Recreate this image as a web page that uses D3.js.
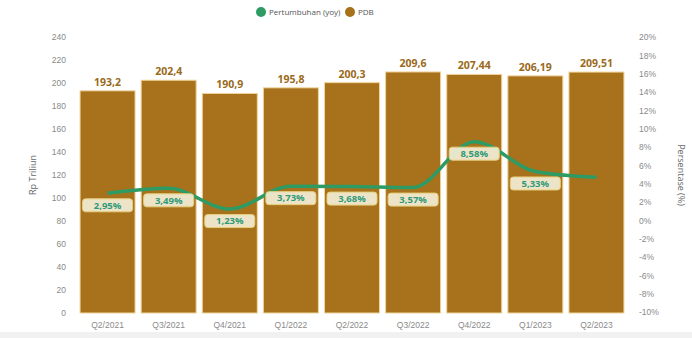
<!DOCTYPE html>
<html><head><meta charset="utf-8">
<script src="https://cdn.jsdelivr.net/npm/d3@7"></script>
<style>body{margin:0;background:#fff}svg{display:block;font-family:"Open Sans",sans-serif}</style>
</head><body>
<svg id="c" width="692" height="338"></svg>
<script>
const categories = ["Q2/2021","Q3/2021","Q4/2021","Q1/2022","Q2/2022","Q3/2022","Q4/2022","Q1/2023","Q2/2023"];
const pdbValues = [193.2, 202.4, 190.9, 195.8, 200.3, 209.6, 207.44, 206.19, 209.51];
const pdbLabels = ["193,2","202,4","190,9","195,8","200,3","209,6","207,44","206,19","209,51"];
const growthValues = [2.95, 3.49, 1.23, 3.73, 3.68, 3.57, 8.58, 5.33, 4.7];
const growthLabels = ["2,95%","3,49%","1,23%","3,73%","3,68%","3,57%","8,58%","5,33%",""];
const leftTicks = [0,20,40,60,80,100,120,140,160,180,200,220,240];
const rightTicks = [-10,-8,-6,-4,-2,0,2,4,6,8,10,12,14,16,18,20];

const svg = d3.select("#c");
const pTop = 37, pBottom = 313, pLeft = 77, pRight = 627;
const x = d3.scaleBand().domain(categories).range([pLeft, pRight]).paddingInner(0.1).paddingOuter(0.05);
const yL = d3.scaleLinear().domain([0, 240]).range([pBottom, pTop]);
const yR = d3.scaleLinear().domain([-10, 20]).range([pBottom - 1, pTop]);

const barColor = "#a8721c", lineColor = "#2e9a64";

svg.append("rect").attr("x",0).attr("y",332).attr("width",692).attr("height",6).attr("fill","#f1f1f1");

const axL = svg.append("g").attr("transform",`translate(${pLeft-11},0)`)
  .call(d3.axisLeft(yL).tickValues(leftTicks).tickSize(0).tickPadding(0));
const axR = svg.append("g").attr("transform",`translate(${pRight+12},0)`)
  .call(d3.axisRight(yR).tickValues(rightTicks).tickSize(0).tickPadding(0).tickFormat(d=>d+"%"));
const axB = svg.append("g").attr("transform",`translate(0,${pBottom+7})`)
  .call(d3.axisBottom(x).tickSize(0).tickPadding(0));
[axL,axR,axB].forEach(a=>{a.select(".domain").remove();a.selectAll("text").attr("fill","#8a8a8a").style("font-size","8.5px");});
axB.selectAll("text").attr("dy","0.9em");

svg.append("text").attr("transform","translate(36,175) rotate(-90)").attr("text-anchor","middle")
  .attr("fill","#666").style("font-size","9px").text("Rp Triliun");
svg.append("text").attr("transform","translate(678,175) rotate(90)").attr("text-anchor","middle")
  .attr("fill","#666").style("font-size","9px").text("Persentase (%)");

svg.append("g").selectAll("rect").data(pdbValues).join("rect")
  .attr("x",(d,i)=>x(categories[i])).attr("width",x.bandwidth())
  .attr("y",d=>yL(d)).attr("height",d=>pBottom-yL(d))
  .attr("fill",barColor).attr("stroke","#f0d49a").attr("stroke-width",1);

svg.append("g").selectAll("text").data(pdbValues).join("text")
  .attr("x",(d,i)=>x(categories[i])+x.bandwidth()/2).attr("y",d=>yL(d)-5)
  .attr("text-anchor","middle").attr("fill","#9a6a1a").style("font-size","10.5px").style("font-weight","700")
  .text((d,i)=>pdbLabels[i]);

const line = d3.line().x((d,i)=>x(categories[i])+x.bandwidth()/2).y(d=>yR(d)).curve(d3.curveMonotoneX);
svg.append("path").datum(growthValues).attr("d",line).attr("fill","none")
  .attr("stroke",lineColor).attr("stroke-width",3.5).attr("stroke-linejoin","round");

const lg = svg.append("g");
growthValues.forEach((d,i)=>{
  if(!growthLabels[i]) return;
  const cx = x(categories[i])+x.bandwidth()/2, cy = yR(d)+12;
  const w = 50, h = 13;
  lg.append("rect").attr("x",cx-w/2).attr("y",cy-h/2).attr("width",w).attr("height",h).attr("rx",3)
    .attr("fill","#f4f1dc").attr("fill-opacity",0.9).attr("stroke","#e6cf7a").attr("stroke-width",1);
  lg.append("text").attr("x",cx).attr("y",cy).attr("dy","0.35em").attr("text-anchor","middle")
    .attr("fill","#2f9a7a").style("font-size","9.5px").style("font-weight","700").text(growthLabels[i]);
});

const leg = svg.append("g");
leg.append("circle").attr("cx",261).attr("cy",12).attr("r",5).attr("fill",lineColor);
leg.append("text").attr("x",269).attr("y",12).attr("dy","0.35em").attr("fill","#555").style("font-size","8px").text("Pertumbuhan (yoy)");
leg.append("circle").attr("cx",350).attr("cy",12).attr("r",5).attr("fill",barColor);
leg.append("text").attr("x",358).attr("y",12).attr("dy","0.35em").attr("fill","#555").style("font-size","8px").text("PDB");
</script>
</body></html>
